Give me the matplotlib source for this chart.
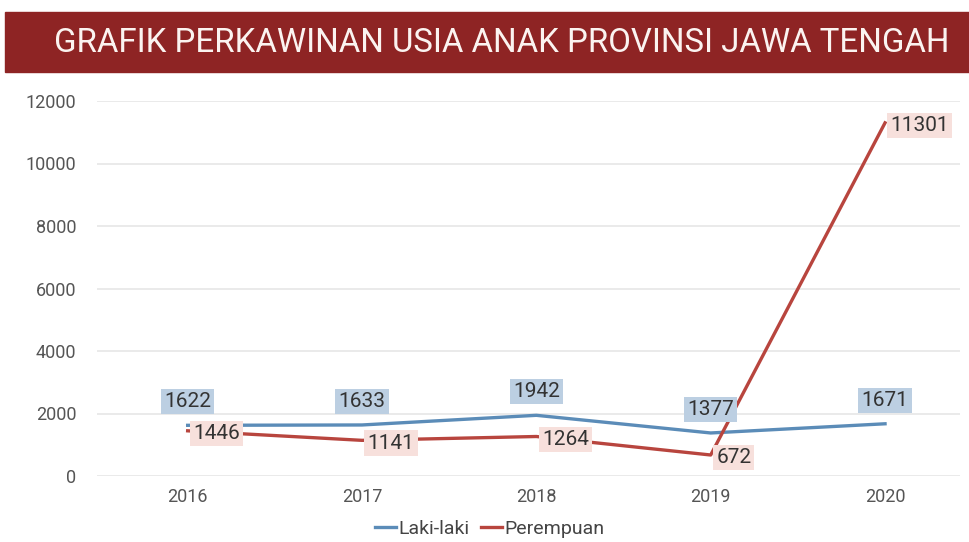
import matplotlib.pyplot as plt
from matplotlib.patches import Rectangle

plt.rcParams['font.family'] = ['Roboto', 'DejaVu Sans']

years = ['2016', '2017', '2018', '2019', '2020']
laki = [1622, 1633, 1942, 1377, 1671]
perempuan = [1446, 1141, 1264, 672, 11301]
yticks = [0, 2000, 4000, 6000, 8000, 10000, 12000]

blue = '#5b8cb8'
red = '#b8453e'

fig = plt.figure(figsize=(9.69, 5.42), dpi=100)

# banner judul
fig.patches.append(Rectangle((5 / 969, 1 - 72 / 542), 964 / 969, 60 / 542,
                             transform=fig.transFigure, color='#8e2424', zorder=0))
fig.text(0.518, 1 - 43 / 542, 'GRAFIK PERKAWINAN USIA ANAK PROVINSI JAWA TENGAH',
         ha='center', va='center', color='#fbf3f0', fontsize=23.8)

ax = fig.add_axes([97 / 969, 1 - 476 / 542, 863 / 969, 375 / 542])
x = range(len(years))
ax.plot(x, laki, color=blue, lw=2.4, label='Laki-laki', zorder=3)
ax.plot(x, perempuan, color=red, lw=2.4, label='Perempuan', zorder=3)

for i, v in enumerate(laki):
    ax.annotate(str(v), (i, v), xytext=(0, 17), textcoords='offset points',
                ha='center', va='center', fontsize=15, color='#333333', zorder=5,
                bbox=dict(boxstyle='square,pad=0.15', fc='#bccfe2', ec='none'))
for i, v in enumerate(perempuan):
    ax.annotate(str(v), (i, v), xytext=(4, -2), textcoords='offset points',
                ha='left', va='center', fontsize=15, color='#333333', zorder=5,
                bbox=dict(boxstyle='square,pad=0.15', fc='#f7e0dc', ec='none'))

ax.set_xlim(-0.52, 4.43)
ax.set_ylim(0, 12000)
ax.set_xticks(list(x))
ax.set_xticklabels(years)
ax.set_yticks(yticks)
ax.tick_params(length=0, labelsize=13, labelcolor='#555555')
ax.tick_params(axis='y', pad=15)
ax.tick_params(axis='x', pad=9)
ax.grid(axis='y', color='#e6e6e6', lw=1.2)
ax.set_axisbelow(True)
for s in ax.spines.values():
    s.set_visible(False)

fig.legend(loc='center', bbox_to_anchor=(0.505, 1 - 529 / 542), ncol=2, frameon=False,
           fontsize=14, handlelength=1.1, handletextpad=0.1, columnspacing=0.6,
           labelcolor='#444444')

fig.savefig('out.png', dpi=100)
